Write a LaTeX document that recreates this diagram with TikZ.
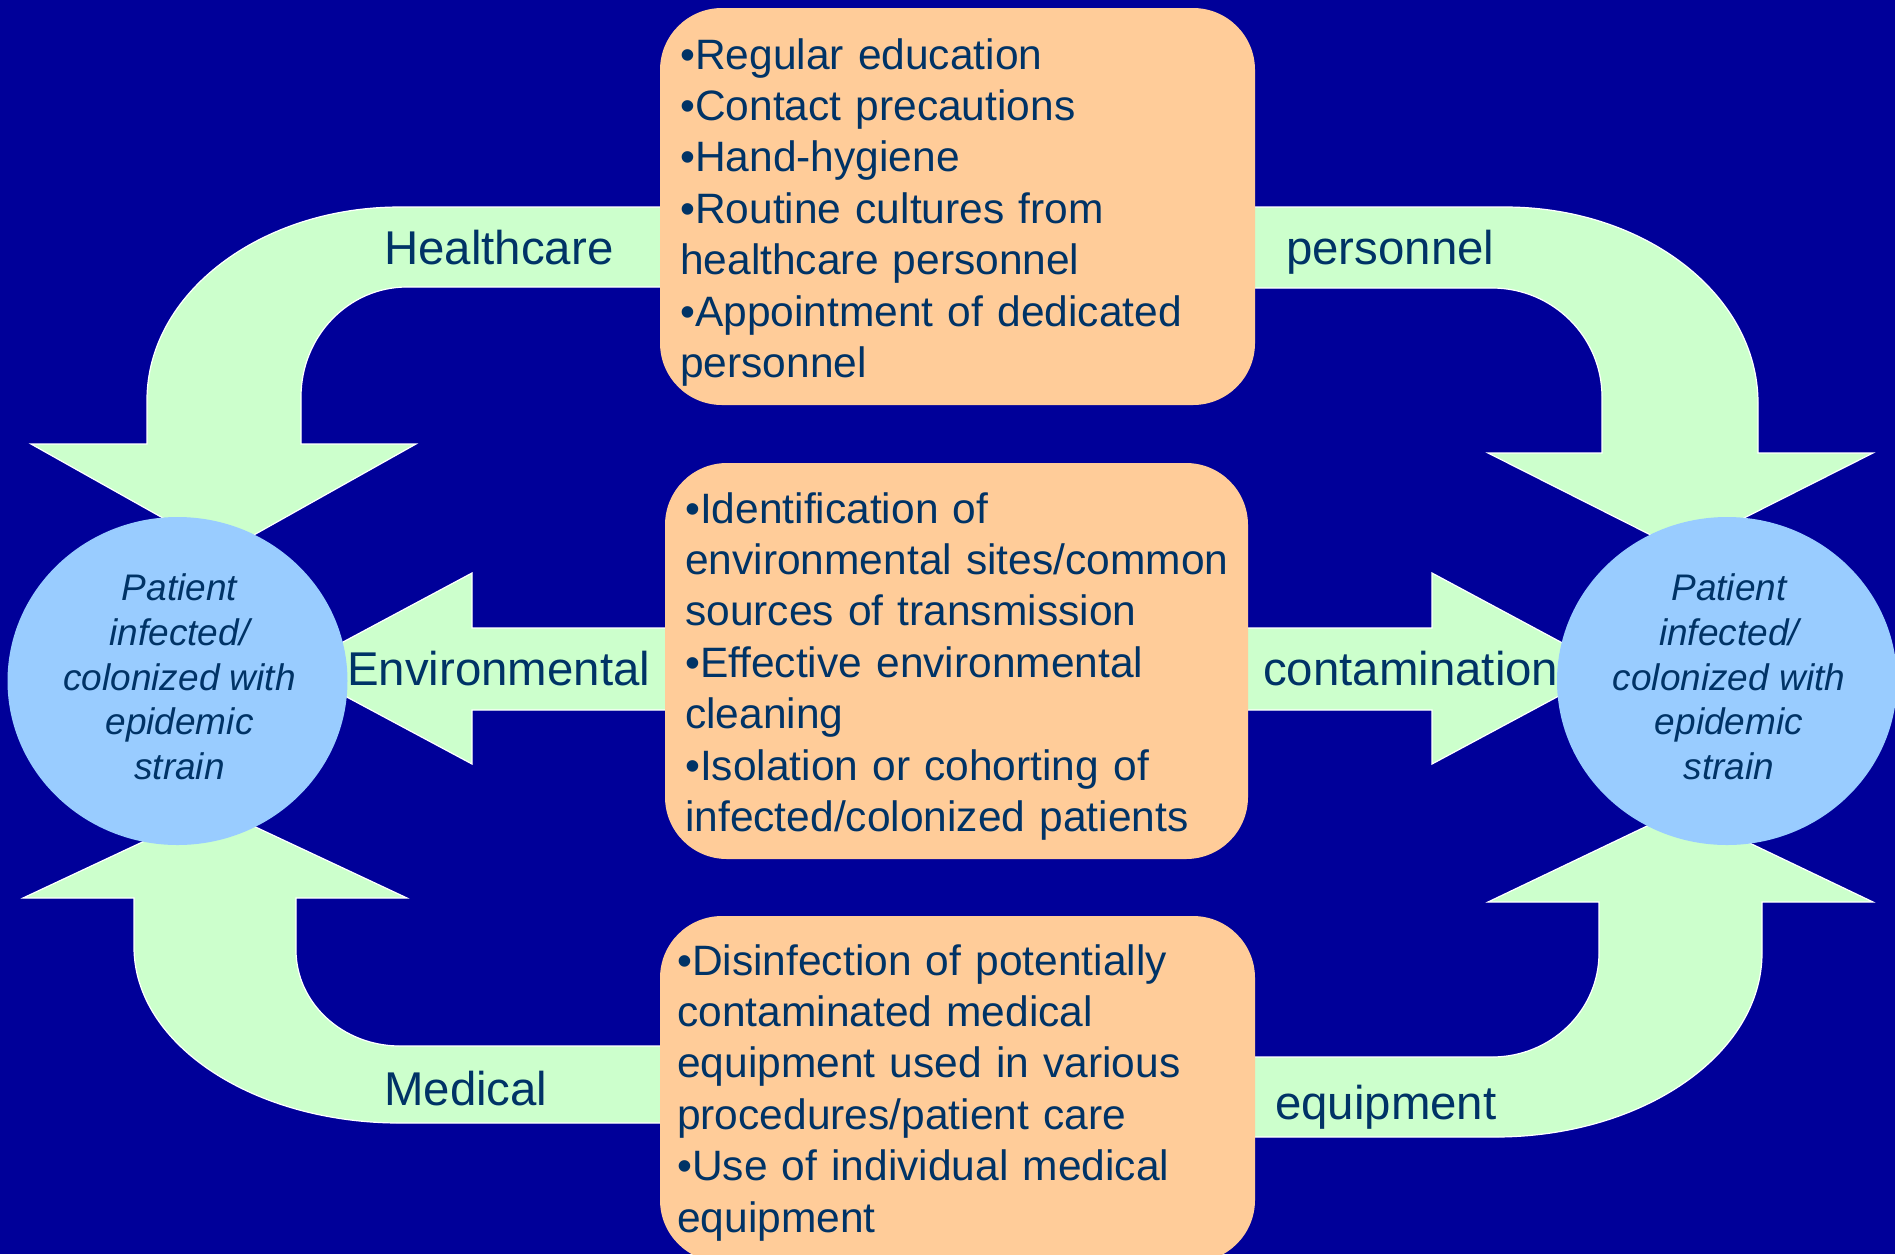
\documentclass[tikz,border=0pt]{standalone}
\usepackage{fontspec}
\setmainfont{Liberation Sans}
\usetikzlibrary{shapes.geometric}
\definecolor{bgblue}{RGB}{0,0,153}
\definecolor{flowgreen}{RGB}{204,255,204}
\definecolor{peach}{RGB}{255,204,153}
\definecolor{patientblue}{RGB}{153,204,255}
\definecolor{inktext}{RGB}{0,51,102}
\begin{document}
\begin{tikzpicture}[x=1pt,y=-1pt,
  flow/.style={fill=flowgreen,draw=white,line width=1.2pt,line join=miter},
  measurebox/.style={rectangle,fill=peach,draw=none,rounded corners=62pt,inner sep=0pt},
  patient/.style={ellipse,fill=patientblue,draw=none,inner sep=0pt,
    minimum width=340pt,minimum height=328pt},
  patienttext/.style={inner sep=0pt,align=center,text=inktext,
    font=\fontsize{37}{44.7}\selectfont\itshape,xshift=2pt,yshift=4pt},
  boxtext/.style={anchor=base west,inner sep=0pt,text width=600pt,align=left,
    text=inktext,font=\fontsize{42.5}{51.4}\selectfont},
  route/.style={anchor=base west,inner sep=0pt,text=inktext,
    font=\fontsize{47.4}{56}\selectfont}]

\useasboundingbox (0,0) rectangle (1895,1254);
\clip (0,0) rectangle (1895,1254);
\fill[bgblue] (0,0) rectangle (1895,1254);

% curved block arrows: healthcare personnel (top)
\draw[flow] (700,207) -- (400,207) .. controls (260.3,207) and (147,293.4) .. (147,400)
  -- (147,444) -- (31,444) -- (223.5,552) -- (416,444) -- (301,444) -- (301,397)
  .. controls (301,336.2) and (348.5,287) .. (407,287) -- (700,287) -- cycle;
\draw[flow] (1220,207) -- (1505,207) .. controls (1644.7,207) and (1758,294.7) .. (1758,403)
  -- (1758,453) -- (1873,453) -- (1680.5,550) -- (1488,453) -- (1602,453) -- (1602,397)
  .. controls (1602,336.8) and (1552.8,288) .. (1492,288) -- (1220,288) -- cycle;

% curved block arrows: medical equipment (bottom)
\draw[flow] (700,1123) -- (400,1123) .. controls (253.1,1123) and (134,1044.2) .. (134,947)
  -- (134,898) -- (23,898) -- (215,808) -- (407,898) -- (296,898) -- (296,950)
  .. controls (296,1003) and (342.6,1046) .. (400,1046) -- (700,1046) -- cycle;
\draw[flow] (1220,1137) -- (1495,1137) .. controls (1642.5,1137) and (1762,1054.6) .. (1762,953)
  -- (1762,902) -- (1873,902) -- (1680.5,810) -- (1488,902) -- (1599,902) -- (1599,953)
  .. controls (1599,1010.4) and (1551.1,1057) .. (1492,1057) -- (1220,1057) -- cycle;

% straight block arrows: environmental contamination (middle)
\draw[flow] (700,628) -- (472,628) -- (472,573) -- (293.5,668.5) -- (472,764)
  -- (472,710) -- (700,710) -- cycle;
\draw[flow] (1220,628) -- (1432,628) -- (1432,573) -- (1610,668.5) -- (1432,764)
  -- (1432,710) -- (1220,710) -- cycle;

% patients
\node[patient] (leftpt) at (177.5,681) {};
\node[patient] (rightpt) at (1727,681) {};
\node[patienttext] (lefttext) at (leftpt) {Patient\\infected/\\colonized with\\epidemic\\strain};
\node[patienttext] (righttext) at (rightpt) {Patient\\infected/\\colonized with\\epidemic\\strain};

% control measures
\node[measurebox,minimum width=595pt,minimum height=397pt] (hcbox) at (957.5,206.5) {};
\node[measurebox,minimum width=583pt,minimum height=396pt] (envbox) at (956.5,661) {};
\node[measurebox,minimum width=595pt,minimum height=346pt] (medbox) at (957.5,1089) {};

\node[boxtext] (hctext) at (680,69) {•Regular education\\•Contact precautions\\•Hand-hygiene\\•Routine cultures from\\healthcare personnel\\•Appointment of dedicated\\personnel};
\node[boxtext] (envtext) at (685,523) {•Identification of\\environmental sites/common\\sources of transmission\\•Effective environmental\\cleaning\\•Isolation or cohorting of\\infected/colonized patients};
\node[boxtext] (medtext) at (677,975) {•Disinfection of potentially\\contaminated medical\\equipment used in various\\procedures/patient care\\•Use of individual medical\\equipment};

% route labels
\node[route] (lblhc) at (384,264) {Healthcare};
\node[route] (lblpers) at (1286,264) {personnel};
\node[route] (lblenv) at (347,685) {Environmental};
\node[route] (lblcont) at (1263,685) {contamination};
\node[route] (lblmed) at (384,1105) {Medical};
\node[route] (lbleq) at (1275,1119) {equipment};
\end{tikzpicture}
\end{document}
